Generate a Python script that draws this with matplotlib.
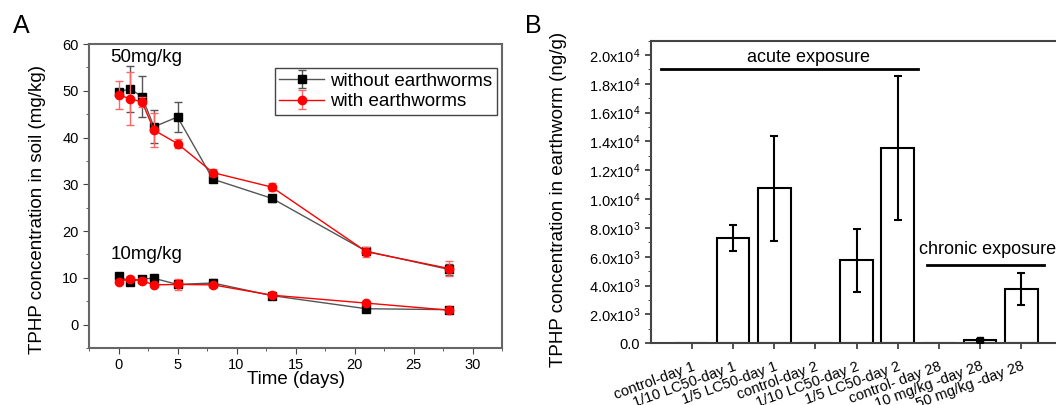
import numpy as np
import matplotlib
matplotlib.use("Agg")
import matplotlib.pyplot as plt
import matplotlib.transforms as mtransforms
from matplotlib.ticker import MultipleLocator, FuncFormatter

plt.rcParams['font.family'] = ['Liberation Sans', 'DejaVu Sans']
plt.rcParams['mathtext.default'] = 'regular'

# ---- panel A data: TPHP in soil ----
days = [0, 1, 2, 3, 5, 8, 13, 21, 28]

hi_without = [49.8, 50.4, 48.7, 42.3, 44.4, 31.1, 27.0, 15.7, 11.8]
hi_without_err = [0.6, 4.9, 4.4, 3.5, 3.3, 0.5, 0.8, 0.7, 1.2]
hi_with = [49.1, 48.3, 47.6, 41.6, 38.7, 32.5, 29.4, 15.6, 12.0]
hi_with_err = [2.9, 5.7, 1.0, 3.7, 1.0, 0.7, 0.9, 1.1, 1.6]

lo_without = [10.3, 9.2, 9.8, 9.9, 8.6, 8.9, 6.2, 3.4, 3.2]
lo_without_err = [0.4, 0.5, 0.4, 0.4, 0.5, 0.8, 0.4, 0.3, 0.4]
lo_with = [9.2, 9.8, 9.4, 8.5, 8.6, 8.5, 6.3, 4.6, 3.1]
lo_with_err = [0.4, 0.5, 0.5, 0.4, 1.2, 0.5, 0.4, 0.4, 0.3]

# ---- panel B data: TPHP in earthworm ----
groups = ["control-day 1", "1/10 LC50-day 1", "1/5 LC50-day 1",
          "control-day 2", "1/10 LC50-day 2", "1/5 LC50-day 2",
          "control- day 28", "10 mg/kg -day 28", "50 mg/kg -day 28"]
worm = [0, 7300, 10750, 0, 5750, 13550, 0, 200, 3750]
worm_err = [0, 880, 3620, 0, 2200, 5000, 0, 80, 1100]

fig = plt.figure(figsize=(10.56, 4.05), dpi=100)

# ------------------- panel A -------------------
ax1 = fig.add_axes([0.0843, 0.1407, 0.3911, 0.7506])
red = '#ff0000'
ax1.errorbar(days, hi_without, yerr=hi_without_err, color='#555555', lw=1,
             marker='s', ms=5.5, mfc='black', mec='black', ecolor='#555555',
             elinewidth=1, capsize=3, label='without earthworms', zorder=3)
ax1.errorbar(days, hi_with, yerr=hi_with_err, color=red, lw=1,
             marker='o', ms=6, mfc=red, mec=red, ecolor='#ff6666',
             elinewidth=1, capsize=3, label='with earthworms', zorder=4)
ax1.errorbar(days, lo_without, yerr=lo_without_err, color='#555555', lw=1,
             marker='s', ms=5.5, mfc='black', mec='black', ecolor='#555555',
             elinewidth=1, capsize=3, zorder=3)
ax1.errorbar(days, lo_with, yerr=lo_with_err, color=red, lw=1,
             marker='o', ms=6, mfc=red, mec=red, ecolor='#ff6666',
             elinewidth=1, capsize=3, zorder=4)

ax1.set_xlim(-2.5, 32.5)
ax1.set_ylim(-5, 60)
ax1.xaxis.set_major_locator(MultipleLocator(5))
ax1.xaxis.set_minor_locator(MultipleLocator(2.5))
ax1.yaxis.set_major_locator(MultipleLocator(10))
ax1.yaxis.set_minor_locator(MultipleLocator(5))
ax1.tick_params(which='both', direction='out', labelsize=10.5, color='#444444')
ax1.tick_params(which='major', length=4)
ax1.tick_params(which='minor', length=2.5)
for s in ax1.spines.values():
    s.set_color('#666666')
    s.set_linewidth(1.5)
ax1.set_xlabel('Time (days)', fontsize=13.5, labelpad=-1)
ax1.set_ylabel('TPHP concentration in soil (mg/kg)', fontsize=13.5)
ax1.yaxis.set_label_coords(-0.104, 0.457)
ax1.text(-0.7, 57.2, '50mg/kg', fontsize=13.5, ha='left', va='center')
ax1.text(-0.7, 15.0, '10mg/kg', fontsize=13.5, ha='left', va='center')
leg = ax1.legend(loc='upper right', bbox_to_anchor=(0.987, 0.922), fontsize=13.5,
                 frameon=True, fancybox=False, edgecolor='#444444', framealpha=1,
                 handlelength=2.4, handletextpad=0.3, borderpad=0.25,
                 labelspacing=0.2, borderaxespad=0)
leg.get_frame().set_linewidth(1)
fig.text(0.012, 0.935, 'A', fontsize=18, ha='left', va='center')

# ------------------- panel B -------------------
ax2 = fig.add_axes([0.6162, 0.1523, 0.4015, 0.7477])
pos = np.arange(1, len(groups) + 1)
worm_a = np.array(worm)
err_a = np.array(worm_err)
has = worm_a > 0
ax2.bar(pos, worm_a, width=0.8, color='white', edgecolor='black', lw=1.5, zorder=2)
ax2.errorbar(pos[has], worm_a[has], yerr=err_a[has], fmt='none',
             ecolor='black', elinewidth=1.5, capsize=3, capthick=1.5, zorder=3)
ax2.plot([pos[7]], [worm[7]], 's', color='black', ms=4, zorder=4)

ax2.set_xlim(0, 10.3)
ax2.set_ylim(0, 21000)
ax2.set_xticks(pos)
ax2.set_xticklabels(groups, rotation=20, ha='right', rotation_mode='anchor',
                    fontsize=11.5)
shift = mtransforms.ScaledTranslation(2 / 100, 0, fig.dpi_scale_trans)
for lab in ax2.get_xticklabels():
    lab.set_transform(lab.get_transform() + shift)
ax2.yaxis.set_major_locator(MultipleLocator(2000))
ax2.yaxis.set_minor_locator(MultipleLocator(1000))


def sci_fmt(v, pos):
    if abs(v) < 1e-9:
        return '0.0'
    if v < 0:
        return ''
    e = int(np.floor(np.log10(v)))
    return '{:.1f}x10$^{{{}}}$'.format(v / 10 ** e, e)


ax2.yaxis.set_major_formatter(FuncFormatter(sci_fmt))
ax2.tick_params(which='both', direction='out', labelsize=10.5, color='#333333')
ax2.tick_params(which='major', length=4, width=1.2)
ax2.tick_params(which='minor', length=2.5)
ax2.tick_params(axis='x', pad=7.5)
for s in ax2.spines.values():
    s.set_color('#444444')
    s.set_linewidth(1.5)
ax2.set_ylabel('TPHP concentration in earthworm (ng/g)', fontsize=13.5)
ax2.yaxis.set_label_coords(-0.197, 0.475)

# exposure brackets
ax2.plot([0.26, 6.49], [19000, 19000], color='black', lw=2)
ax2.text(3.83, 19250, 'acute exposure', fontsize=13, ha='center', va='bottom')
ax2.plot([6.72, 9.55], [5450, 5450], color='black', lw=2)
ax2.text(8.19, 5900, 'chronic exposure', fontsize=13, ha='center', va='bottom')

fig.text(0.497, 0.935, 'B', fontsize=18, ha='left', va='center')

fig.savefig('out.png', dpi=100)
